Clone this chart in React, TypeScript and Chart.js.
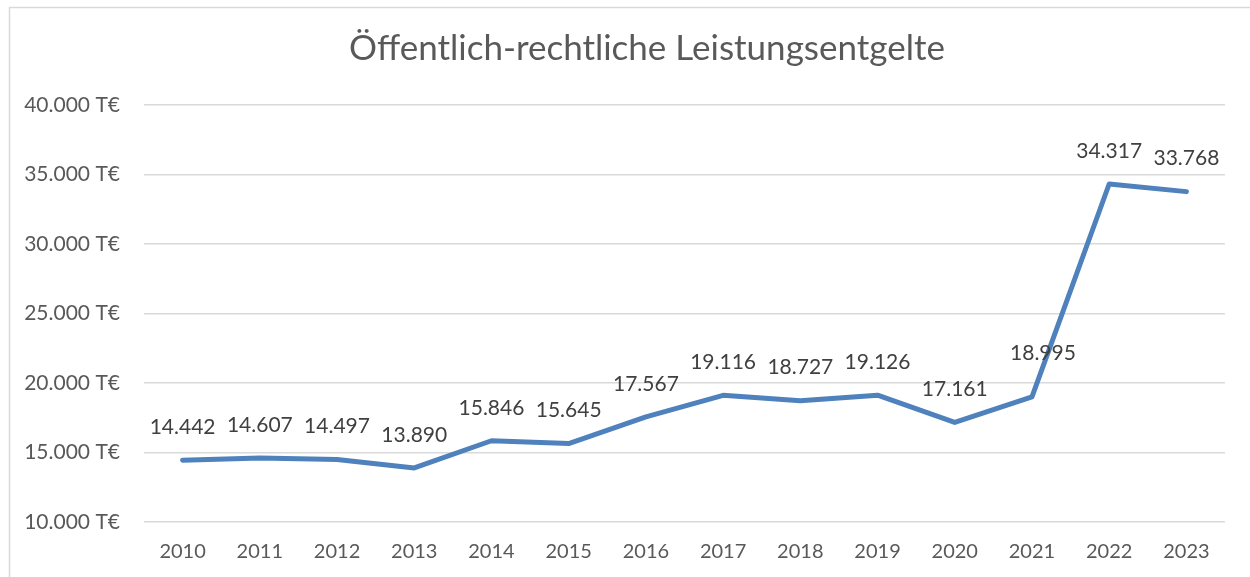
import React, { useEffect, useRef } from "react";
import { Chart, registerables } from "chart.js";

Chart.register(...registerables);

const TITLE = "Öffentlich-rechtliche Leistungsentgelte";
const years = ["2010", "2011", "2012", "2013", "2014", "2015", "2016", "2017", "2018", "2019", "2020", "2021", "2022", "2023"];
const values = [14442, 14607, 14497, 13890, 15846, 15645, 17567, 19116, 18727, 19126, 17161, 18995, 34317, 33768];
const yMin = 10000;
const yMax = 40000;
const yStep = 5000;

const FONT = "Lato, 'Open Sans', sans-serif";

function fmt(n: number): string {
  const s = Math.round(n).toString();
  return s.replace(/\B(?=(\d{3})+(?!\d))/g, ".");
}

const decorPlugin = {
  id: "decor",
  beforeDraw(chart: any) {
    const ctx = chart.ctx;
    ctx.save();
    ctx.fillStyle = "#ffffff";
    ctx.fillRect(0, 0, chart.width, chart.height);
    ctx.strokeStyle = "#d9d9d9";
    ctx.lineWidth = 1.5;
    ctx.strokeRect(9.5, 7.5, chart.width + 20, chart.height + 20);
    ctx.restore();
  },
  afterDraw(chart: any) {
    const ctx = chart.ctx;
    ctx.save();
    ctx.fillStyle = "#595959";
    ctx.font = `35px ${FONT}`;
    ctx.textAlign = "center";
    ctx.textBaseline = "middle";
    ctx.fillText(TITLE, 647, 49);
    const meta = chart.getDatasetMeta(0);
    ctx.fillStyle = "#404040";
    ctx.font = `21px ${FONT}`;
    meta.data.forEach((pt: any, i: number) => {
      let dx = 0;
      let dy = -33;
      if (i === 11) {
        dx = 11;
        dy = -44;
      }
      ctx.fillText(fmt(values[i]), pt.x + dx, pt.y + dy);
    });
    ctx.restore();
  },
};

export default function App() {
  const ref = useRef<HTMLCanvasElement | null>(null);
  useEffect(() => {
    document.body.style.margin = "0";
    const canvas = ref.current!;
    const chart = new Chart(canvas, {
      type: "line",
      data: {
        labels: years,
        datasets: [
          {
            data: values,
            borderColor: "#4F81BD",
            borderWidth: 5,
            pointRadius: 0,
            pointHoverRadius: 0,
            tension: 0,
            borderJoinStyle: "round",
            borderCapStyle: "round",
            fill: false,
          },
        ],
      },
      options: {
        responsive: false,
        animation: false,
        events: [],
        layout: { padding: { left: 0, top: 105, right: 25, bottom: 0 } },
        plugins: {
          legend: { display: false },
          title: { display: false },
          tooltip: { enabled: false },
        },
        scales: {
          x: {
            offset: true,
            grid: { display: false, drawTicks: false },
            border: { display: false },
            ticks: {
              color: "#595959",
              font: { family: FONT, size: 20 },
              padding: 18,
              maxRotation: 0,
              autoSkip: false,
            },
            afterFit: (s: any) => {
              s.height = 55;
            },
          },
          y: {
            min: yMin,
            max: yMax,
            grid: { color: "#d9d9d9", lineWidth: 1.5, drawTicks: false },
            border: { display: false },
            ticks: {
              stepSize: yStep,
              color: "#595959",
              font: { family: FONT, size: 21 },
              padding: 24,
              callback: (v: any) => `${fmt(Number(v))} T€`,
            },
            afterFit: (s: any) => {
              s.width = 144;
            },
          },
        },
      },
      plugins: [decorPlugin],
    } as any);
    return () => chart.destroy();
  }, []);
  return (
    <div style={{ width: 1250, height: 577 }}>
      <canvas ref={ref} width={1250} height={577} style={{ display: "block" }} />
    </div>
  );
}
